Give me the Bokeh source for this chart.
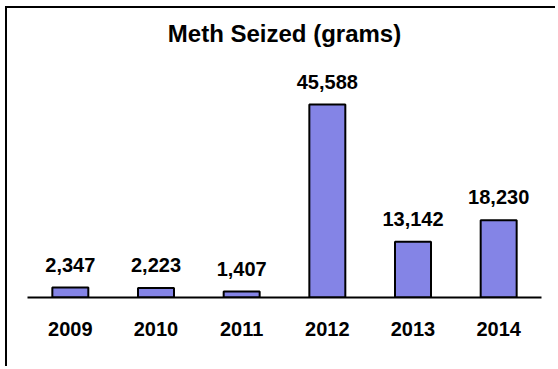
from bokeh.plotting import figure
from bokeh.models import ColumnDataSource, FactorRange, Range1d
from bokeh.core.properties import value
from bokeh.embed import file_html
from bokeh.resources import INLINE

years = ["2009", "2010", "2011", "2012", "2013", "2014"]
seized = [2347, 2223, 1407, 45588, 13142, 18230]
labels = ["{:,}".format(v) for v in seized]
title = "Meth Seized (grams)"

src = ColumnDataSource(dict(year=years, seized=seized, label=labels))

p = figure(
    width=550, height=360,
    x_range=FactorRange(factors=years, range_padding=0),
    y_range=Range1d(0, 59300),
    output_backend="svg", toolbar_location=None,
    min_border_left=20, min_border_right=16,
    min_border_top=38, min_border_bottom=71,
    title=title,
)
p.styles = {"border-top": "2px solid black", "border-left": "2px solid black",
            "margin-left": "5px", "margin-top": "6px"}

p.title.align = "center"
p.title.text_font = "Liberation Sans"
p.title.text_font_style = "bold"
p.title.text_font_size = "24px"
p.title.text_color = "black"
p.title.standoff = 0

p.vbar(x="year", top="seized", width=0.42, source=src,
       fill_color="#8484E6", line_color="black", line_width=2)

p.text(x="year", y="seized", text="label", source=src,
       text_align="center", text_baseline="alphabetic", y_offset=-23,
       text_font=value("Liberation Sans"), text_font_style="bold",
       text_font_size="20px", text_color="black")

p.yaxis.visible = False
p.xgrid.grid_line_color = None
p.ygrid.grid_line_color = None
p.outline_line_color = None

ax = p.xaxis[0]
ax.axis_line_color = "black"
ax.axis_line_width = 2
ax.major_tick_line_color = None
ax.minor_tick_line_color = None
ax.major_tick_out = 0
ax.major_tick_in = 0
ax.major_label_standoff = 24
ax.major_label_text_font = "Liberation Sans"
ax.major_label_text_font_style = "bold"
ax.major_label_text_font_size = "20px"
ax.major_label_text_color = "black"

open("out.html", "w").write(file_html(p, INLINE))
